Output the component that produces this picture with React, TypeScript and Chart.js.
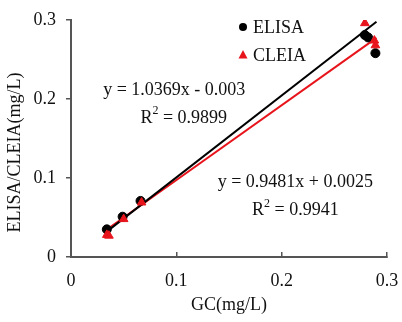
import React, { useEffect, useRef } from "react";
import { Chart, registerables } from "chart.js";

Chart.register(...registerables);

const elisaX = [0.034, 0.049, 0.066, 0.279, 0.282, 0.289];
const elisaY = [0.035, 0.051, 0.071, 0.281, 0.278, 0.258];
const cleiaX = [0.034, 0.036, 0.050, 0.067, 0.279, 0.289, 0.288];
const cleiaY = [0.028, 0.027, 0.048, 0.069, 0.296, 0.268, 0.274];
const elisaFit = { slope: 1.0369, intercept: -0.003, from: 0.033, to: 0.29 };
const cleiaFit = { slope: 0.9481, intercept: 0.0025, from: 0.033, to: 0.29 };
const tickValues = [0, 0.1, 0.2, 0.3];
const xTitle = "GC(mg/L)";
const yTitle = "ELISA/CLEIA(mg/L)";
const equations = [
  { text: "y = 1.0369x - 0.003", x: 0.098, y: 0.211 },
  { text: "y = 0.9481x + 0.0025", x: 0.213, y: 0.095 },
];
const rSquared = [
  { value: "0.9899", x: 0.107, y: 0.176 },
  { value: "0.9941", x: 0.213, y: 0.059 },
];
const legendItems = [
  { label: "ELISA", color: "#000000", shape: "circle" },
  { label: "CLEIA", color: "#e8141c", shape: "triangle" },
];

const FONT = "'Liberation Serif', 'DejaVu Serif', serif";
const RED = "#e8141c";

const fitLine = (f: typeof elisaFit) => [
  { x: f.from, y: f.slope * f.from + f.intercept },
  { x: f.to, y: f.slope * f.to + f.intercept },
];

const overlayPlugin = {
  id: "overlay",
  afterDraw(chart: any) {
    const { ctx, scales, chartArea } = chart;
    const xs = scales.x;
    const ys = scales.y;
    ctx.save();
    ctx.fillStyle = "#111";
    ctx.font = `18px ${FONT}`;
    ctx.textAlign = "center";
    ctx.textBaseline = "middle";
    equations.forEach((a) => {
      ctx.fillText(a.text, xs.getPixelForValue(a.x), ys.getPixelForValue(a.y));
    });
    rSquared.forEach((r) => {
      const big = `18px ${FONT}`;
      const small = `12px ${FONT}`;
      ctx.font = big;
      const wR = ctx.measureText("R").width;
      const rest = " = " + r.value;
      const wRest = ctx.measureText(rest).width;
      ctx.font = small;
      const w2 = ctx.measureText("2").width;
      const total = wR + w2 + wRest;
      let px = xs.getPixelForValue(r.x) - total / 2;
      const py = ys.getPixelForValue(r.y);
      ctx.textAlign = "left";
      ctx.font = big;
      ctx.fillText("R", px, py);
      px += wR;
      ctx.font = small;
      ctx.fillText("2", px, py - 7);
      px += w2;
      ctx.font = big;
      ctx.fillText(rest, px, py);
      ctx.textAlign = "center";
    });
    // legend
    ctx.textAlign = "left";
    ctx.font = `18px ${FONT}`;
    legendItems.forEach((it, i) => {
      const cy = chartArea.top + 7 + i * 28;
      const cx = 243;
      ctx.fillStyle = it.color;
      ctx.beginPath();
      if (it.shape === "circle") {
        ctx.arc(cx, cy, 4, 0, Math.PI * 2);
      } else {
        ctx.moveTo(cx, cy - 5);
        ctx.lineTo(cx + 4.5, cy + 3.5);
        ctx.lineTo(cx - 4.5, cy + 3.5);
        ctx.closePath();
      }
      ctx.fill();
      ctx.fillStyle = "#111";
      ctx.fillText(it.label, cx + 10, cy + 1);
    });
    // y title
    ctx.save();
    ctx.translate(15, (chartArea.top + chartArea.bottom) / 2 + 14);
    ctx.rotate(-Math.PI / 2);
    ctx.textAlign = "center";
    ctx.fillStyle = "#111";
    ctx.fillText(yTitle, 0, 0);
    ctx.restore();
    ctx.restore();
  },
};

export default function App() {
  const ref = useRef<HTMLCanvasElement | null>(null);
  useEffect(() => {
    if (!ref.current) return;
    const chart = new Chart(ref.current, {
      type: "scatter",
      data: {
        datasets: [
          {
            label: "ELISA fit",
            type: "line",
            data: fitLine(elisaFit),
            borderColor: "#000",
            borderWidth: 2,
            pointRadius: 0,
            order: 3,
          } as any,
          {
            label: "CLEIA fit",
            type: "line",
            data: fitLine(cleiaFit),
            borderColor: RED,
            borderWidth: 2,
            pointRadius: 0,
            order: 4,
          } as any,
          {
            label: "ELISA",
            data: elisaX.map((x, i) => ({ x, y: elisaY[i] })),
            backgroundColor: "#000",
            borderColor: "#000",
            pointStyle: "circle",
            pointRadius: 4.5,
            order: 2,
          },
          {
            label: "CLEIA",
            data: cleiaX.map((x, i) => ({ x, y: cleiaY[i] })),
            backgroundColor: RED,
            borderColor: RED,
            pointStyle: "triangle",
            pointRadius: 5,
            order: 1,
          },
        ],
      },
      options: {
        animation: false,
        responsive: false,
        layout: { padding: { left: 0, top: 20, right: 15, bottom: 0 } },
        plugins: { legend: { display: false }, tooltip: { enabled: false } },
        scales: {
          x: {
            type: "linear",
            min: 0,
            max: 0.3,
            afterBuildTicks: (s: any) => {
              s.ticks = tickValues.map((v) => ({ value: v }));
            },
            afterFit: (s: any) => {
              s.height = 65;
              s.paddingLeft = 0;
              s.paddingRight = 0;
            },
            ticks: {
              font: { family: FONT, size: 18 },
              color: "#111",
              padding: 18,
              maxRotation: 0,
              callback: (v: any) => String(v),
            },
            grid: {
              drawOnChartArea: false,
              drawTicks: true,
              tickLength: -5,
              color: "#555",
              lineWidth: 1.5,
            },
            border: { color: "#555", width: 2 },
            title: {
              display: true,
              text: xTitle,
              font: { family: FONT, size: 18 },
              color: "#111",
              padding: { top: 0, bottom: 6 },
            },
          },
          y: {
            type: "linear",
            min: 0,
            max: 0.3,
            afterBuildTicks: (s: any) => {
              s.ticks = tickValues.map((v) => ({ value: v }));
            },
            afterFit: (s: any) => {
              s.width = 71;
              s.paddingTop = 0;
              s.paddingBottom = 0;
            },
            ticks: {
              font: { family: FONT, size: 18 },
              color: "#111",
              padding: 10,
              callback: (v: any) => String(v),
            },
            grid: {
              drawOnChartArea: false,
              drawTicks: true,
              tickLength: 5,
              color: "#555",
              lineWidth: 1.5,
            },
            border: { color: "#555", width: 2 },
          },
        },
      },
      plugins: [overlayPlugin],
    });
    return () => chart.destroy();
  }, []);
  return (
    <div style={{ position: "fixed", left: 0, top: 0, width: 402, height: 322, background: "#fff" }}>
      <canvas ref={ref} width={402} height={322} style={{ width: 402, height: 322 }} />
    </div>
  );
}
